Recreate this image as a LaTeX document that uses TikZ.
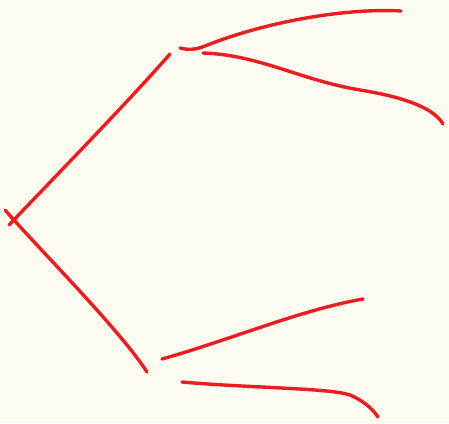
\documentclass[tikz,border=0pt]{standalone}
\usepackage{tikz}
\definecolor{paper}{RGB}{253,251,240}
\definecolor{inkred}{RGB}{232,30,34}
\tikzset{
  pen/.style={draw=inkred, line width=3.4pt, line cap=round, line join=round}
}

\begin{document}
\begin{tikzpicture}[x=1pt, y=-1pt]
  % Paper
  \fill[paper] (0,0) rectangle (449,423);
  \useasboundingbox (0,0) rectangle (449,423);

  % Root branches
  \coordinate (root up) at (9,225);
  \coordinate (root down) at (5,210);
  \coordinate (top fork) at (170,54);
  \coordinate (bottom fork) at (147,372);
  \draw[pen] (root up) .. controls (50,182) and (128,102) .. (top fork);
  \draw[pen] (root down) .. controls (40,250) and (120,330) .. (bottom fork);

  % Upper pair
  \draw[pen] (180,48) .. controls (188,50) and (195,50) .. (205,46)
    .. controls (270,20) and (350,8) .. (401,11);
  \draw[pen] (203,53) .. controls (260,55) and (300,80) .. (360,90)
    .. controls (410,98) and (435,110) .. (443,124);

  % Lower pair
  \draw[pen] (162,359) .. controls (230,340) and (300,310) .. (363,299);
  \draw[pen] (182,382) .. controls (250,388) and (330,388) .. (350,395)
    .. controls (362,400) and (372,408) .. (378,417);
\end{tikzpicture}
\end{document}
